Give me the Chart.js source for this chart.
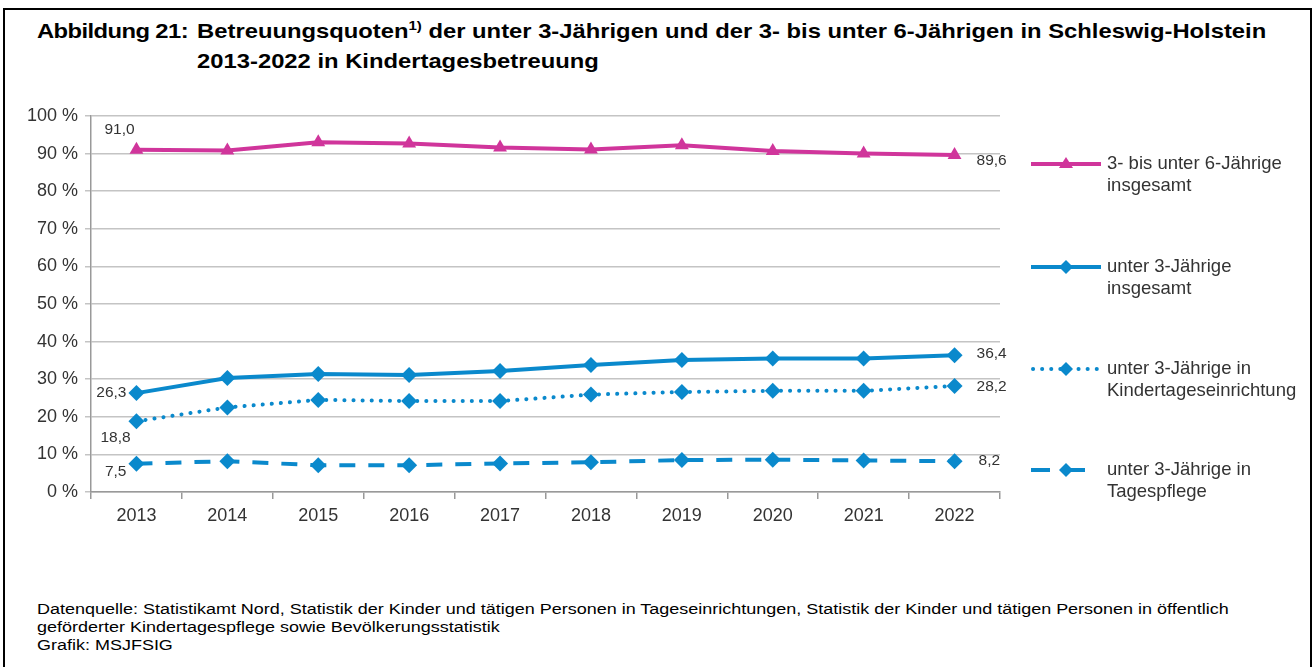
<!DOCTYPE html>
<html><head><meta charset="utf-8">
<script src="https://cdn.jsdelivr.net/npm/chart.js@4/dist/chart.umd.min.js"></script>
<style>
html,body{margin:0;padding:0;background:#fff;}
body{width:1315px;height:667px;position:relative;overflow:hidden;font-family:"Liberation Sans",Arial,sans-serif;}
#frame{position:absolute;left:3px;top:8px;width:1305px;height:670px;border:2px solid #000;}
#title{position:absolute;left:37px;top:16px;font-weight:bold;font-size:20.5px;color:#000;line-height:30px;transform:scaleX(1.16);transform-origin:0 0;}
#title .lab{position:absolute;left:0;top:0;white-space:nowrap;letter-spacing:-0.5px;}
#title .txt{position:absolute;left:138px;top:0;white-space:nowrap;}
#title sup{font-size:13px;line-height:0;}
#chartwrap{position:absolute;left:0;top:90px;width:1315px;height:450px;}
#footer{position:absolute;left:37px;top:600px;font-size:15.5px;color:#000;line-height:17.8px;transform:scaleX(1.16);transform-origin:0 0;white-space:nowrap;}
</style></head>
<body>
<div id="frame"></div>
<div id="title"><span class="lab">Abbildung 21:</span><span class="txt">Betreuungsquoten<sup>1)</sup> der unter 3-Jährigen und der 3- bis unter 6-Jährigen in Schleswig-Holstein<br>2013-2022 in Kindertagesbetreuung</span></div>
<div id="chartwrap"><canvas id="c" width="1315" height="450"></canvas></div>
<div id="footer">Datenquelle: Statistikamt Nord, Statistik der Kinder und tätigen Personen in Tageseinrichtungen, Statistik der Kinder und tätigen Personen in öffentlich<br>geförderter Kindertagespflege sowie Bevölkerungsstatistik<br>Grafik: MSJFSIG</div>
<script>
const years = ['2013','2014','2015','2016','2017','2018','2019','2020','2021','2022'];
const age3to6Total = [91.0, 90.8, 93.0, 92.7, 91.6, 91.1, 92.2, 90.7, 90.0, 89.6];
const under3Total = [26.3, 30.3, 31.4, 31.1, 32.2, 33.8, 35.1, 35.5, 35.5, 36.4];
const under3Kita = [18.8, 22.5, 24.5, 24.2, 24.2, 25.9, 26.6, 26.9, 26.9, 28.2];
const under3Pflege = [7.5, 8.2, 7.1, 7.1, 7.6, 7.9, 8.5, 8.6, 8.4, 8.2];
const seriesNames = [
  ['3- bis unter 6-Jährige','insgesamt'],
  ['unter 3-Jährige','insgesamt'],
  ['unter 3-Jährige in','Kindertageseinrichtung'],
  ['unter 3-Jährige in','Tagespflege']
];
const yTicks = [0,10,20,30,40,50,60,70,80,90,100];

const PINK = '#d0359b';
const BLUE = '#0a89cc';
const TXT = '#333333';
const FONT = '"Liberation Sans", Arial, sans-serif';
const TOP = 90;

function fmt(v){ return v.toFixed(1).replace('.', ','); }

const labelSpec = [
  {first:{dx:-32, dy:-20, align:'left'}, last:{dx:22, dy:6, align:'left'}},
  {first:{dx:-10, dy:0, align:'right'}, last:{dx:22, dy:-1, align:'left'}},
  {first:{dx:-36, dy:16, align:'left'}, last:{dx:22, dy:1, align:'left'}},
  {first:{dx:-10, dy:8, align:'right'}, last:{dx:24, dy:0, align:'left'}}
];

const labelsPlugin = {
  id:'valLabels',
  afterDatasetsDraw(chart){
    const ctx = chart.ctx;
    ctx.save();
    ctx.font = '15.5px ' + FONT;
    ctx.fillStyle = TXT;
    ctx.textBaseline = 'middle';
    chart.data.datasets.forEach((ds, i) => {
      const meta = chart.getDatasetMeta(i);
      const n = ds.data.length;
      [['first',0],['last',n-1]].forEach(([k, idx]) => {
        const p = meta.data[idx];
        const s = labelSpec[i][k];
        ctx.textAlign = s.align;
        ctx.fillText(fmt(ds.data[idx]), p.x + s.dx, p.y + s.dy);
      });
    });
    ctx.restore();
  }
};

const legendYs = [164, 267, 369, 470];
const legendPlugin = {
  id:'sideLegend',
  afterDraw(chart){
    const ctx = chart.ctx;
    ctx.save();
    chart.data.datasets.forEach((ds, i) => {
      const y = legendYs[i] - TOP;
      const x0 = 1031, x1 = 1101, xm = 1066;
      ctx.strokeStyle = ds.borderColor;
      ctx.lineWidth = 4;
      ctx.lineCap = ds.borderCapStyle || 'butt';
      ctx.beginPath();
      if (i === 3) {
        ctx.setLineDash([]);
        ctx.moveTo(1031, y); ctx.lineTo(1050, y);
        ctx.moveTo(1066, y); ctx.lineTo(1085, y);
      } else if (i === 2) {
        ctx.setLineDash([0.1, 9]);
        ctx.moveTo(1033, y); ctx.lineTo(1097, y);
      } else {
        ctx.setLineDash([]);
        ctx.moveTo(x0, y); ctx.lineTo(x1, y);
      }
      ctx.stroke();
      ctx.setLineDash([]);
      ctx.fillStyle = ds.borderColor;
      ctx.beginPath();
      if (ds.pointStyle === 'triangle') {
        ctx.moveTo(xm, y-7); ctx.lineTo(xm+7, y+4); ctx.lineTo(xm-7, y+4);
      } else {
        ctx.moveTo(xm, y-7); ctx.lineTo(xm+7, y); ctx.lineTo(xm, y+7); ctx.lineTo(xm-7, y);
      }
      ctx.closePath(); ctx.fill();
      ctx.fillStyle = TXT;
      ctx.font = '18.5px ' + FONT;
      ctx.textAlign = 'left';
      ctx.textBaseline = 'middle';
      ctx.fillText(seriesNames[i][0], 1107, y);
      ctx.fillText(seriesNames[i][1], 1107, y + 22);
    });
    ctx.restore();
  }
};

new Chart(document.getElementById('c'), {
  type:'line',
  data:{
    labels: years,
    datasets:[
      {label:seriesNames[0].join(' '), data:age3to6Total, borderColor:PINK, backgroundColor:PINK, borderWidth:4, pointStyle:'triangle', pointRadius:8, pointBorderWidth:0, tension:0},
      {label:seriesNames[1].join(' '), data:under3Total, borderColor:BLUE, backgroundColor:BLUE, borderWidth:4, pointStyle:'rectRot', pointRadius:8, pointBorderWidth:0, tension:0},
      {label:seriesNames[2].join(' '), data:under3Kita, borderColor:BLUE, backgroundColor:BLUE, borderWidth:4, borderDash:[0.1,9], borderCapStyle:'round', pointStyle:'rectRot', pointRadius:8, pointBorderWidth:0, tension:0},
      {label:seriesNames[3].join(' '), data:under3Pflege, borderColor:BLUE, backgroundColor:BLUE, borderWidth:4, borderDash:[16,13], pointStyle:'rectRot', pointRadius:8, pointBorderWidth:0, tension:0}
    ]
  },
  options:{
    responsive:false,
    animation:false,
    events:[],
    layout:{padding:{top:26, right:315, left:0, bottom:0}},
    plugins:{legend:{display:false}, tooltip:{enabled:false}, title:{display:false}},
    scales:{
      x:{
        offset:true,
        grid:{offset:true, drawOnChartArea:false, drawTicks:true, tickLength:7, color:'#999', lineWidth:1.5},
        border:{color:'#999', width:1.5},
        ticks:{color:TXT, font:{family:FONT, size:18}, padding:6, maxRotation:0},
        afterFit(s){ s.height = 48; }
      },
      y:{
        min:0, max:100,
        afterBuildTicks(s){ s.ticks = yTicks.map(v => ({value:v})); },
        grid:{color:'#c4c4c4', lineWidth:1.5, tickLength:6},
        border:{color:'#999', width:1.5},
        ticks:{color:TXT, font:{family:FONT, size:18}, padding:7, callback:v => v + ' %'},
        afterFit(s){ s.width = 91; }
      }
    }
  },
  plugins:[labelsPlugin, legendPlugin]
});
</script>
</body></html>
